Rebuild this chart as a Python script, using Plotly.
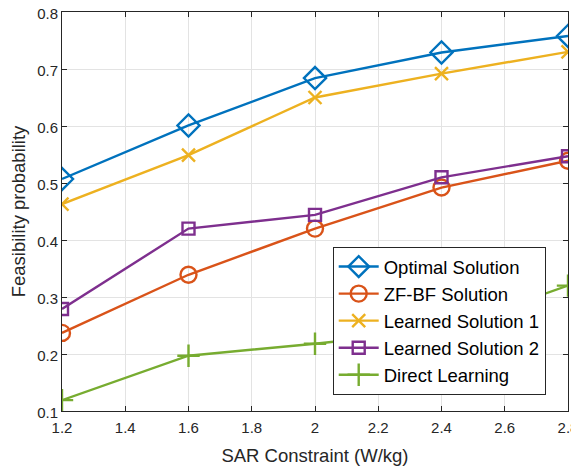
import plotly.graph_objects as go

sar = [1.2, 1.6, 2.0, 2.4, 2.8]
optimal = [0.507, 0.601, 0.684, 0.729, 0.758]
zfbf = [0.237, 0.339, 0.420, 0.492, 0.539]
learned1 = [0.463, 0.549, 0.650, 0.692, 0.730]
learned2 = [0.279, 0.420, 0.444, 0.510, 0.547]
direct = [0.119, 0.197, 0.218, 0.242, 0.320]

series = [
    ("Optimal Solution", optimal, "#0072BD", "diamond-open", 17),
    ("ZF-BF Solution", zfbf, "#D95319", "circle-open", 16),
    ("Learned Solution 1", learned1, "#EDB120", "x-thin-open", 13),
    ("Learned Solution 2", learned2, "#7E2F8E", "square-open", 12),
    ("Direct Learning", direct, "#77AC30", "cross-thin-open", 16),
]

fig = go.Figure()
for name, vals, color, sym, size in series:
    fig.add_trace(go.Scatter(
        x=sar, y=vals, name=name, mode="lines+markers",
        line=dict(color=color, width=2.4),
        marker=dict(symbol=sym, size=size, color=color, line=dict(width=2.4, color=color)),
    ))

FONT = "Liberation Sans, Arial, Helvetica"

axis_common = dict(
    showline=True, linecolor="#262626", linewidth=1, mirror="allticks",
    ticks="inside", ticklen=5, tickcolor="#262626",
    showgrid=True, gridcolor="#e3e3e3", gridwidth=1,
    zeroline=False, automargin=False, ticklabeloverflow="allow",
    tickfont=dict(family=FONT, size=15, color="#262626"),
)

# page body has an 8px default margin, so the figure is offset by 8px
fig.update_layout(
    width=579, height=458,
    margin=dict(l=54, r=19, t=4, b=55),
    paper_bgcolor="white", plot_bgcolor="white",
    xaxis=dict(range=[1.2, 2.8], dtick=0.2, tickformat="~g", ticklabelstandoff=3,
               title=dict(text="SAR Constraint (W/kg)", standoff=15,
                          font=dict(family=FONT, size=18.5, color="#262626")),
               **axis_common),
    yaxis=dict(range=[0.1, 0.8], dtick=0.1, tickformat=".1f", ticklabelshift=2,
               title=dict(text="Feasibility probability", standoff=6,
                          font=dict(family=FONT, size=18.5, color="#262626")),
               **axis_common),
    legend=dict(x=0.535, y=0.411, xanchor="left", yanchor="top",
                bgcolor="white", bordercolor="#262626", borderwidth=1,
                font=dict(family=FONT, size=18.5, color="#000000"),
                tracegroupgap=0, itemwidth=40),
    showlegend=True,
)

fig.write_html("out.html")
